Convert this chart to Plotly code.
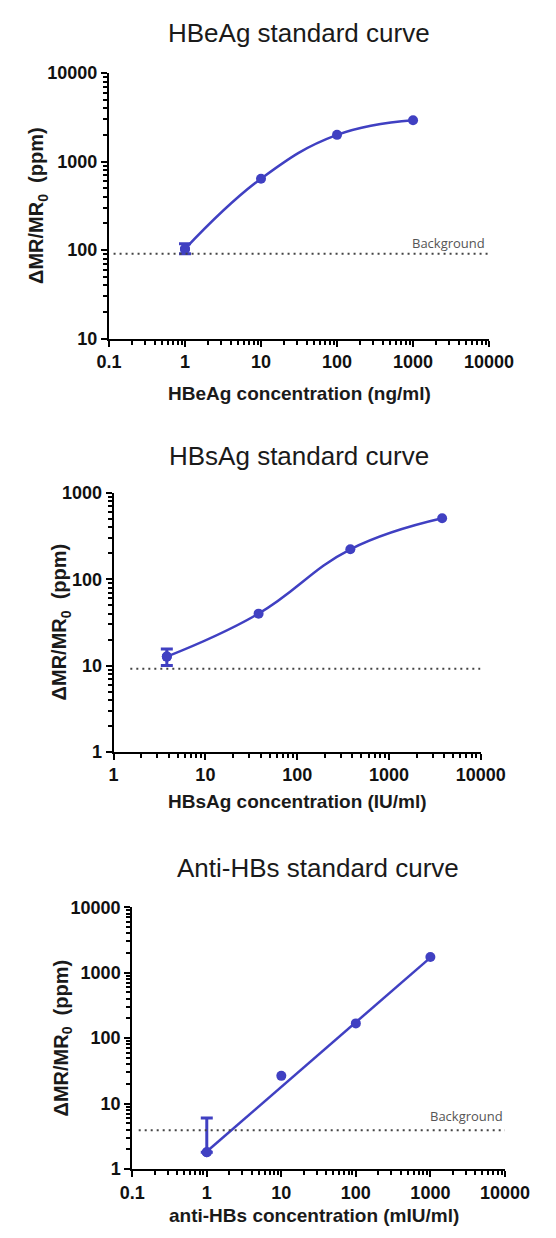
import plotly.graph_objects as go

# ---------------- data ----------------
hbeag_x = [1, 10, 100, 1000]
hbeag_y = [103, 640, 2000, 2930]
hbeag_err_plus = [15, 0, 0, 0]
hbeag_err_minus = [12, 0, 0, 0]
hbeag_background = 91

hbsag_x = [3.8, 38, 380, 3800]
hbsag_y = [12.7, 40, 223, 510]
hbsag_err_plus = [2.9, 0, 0, 0]
hbsag_err_minus = [2.7, 0, 0, 0]
hbsag_background = 9.2

antihbs_x = [1, 10, 100, 1000]
antihbs_y = [1.8, 26.5, 168, 1740]
antihbs_err_plus = [4.2, 0, 0, 0]
antihbs_err_minus = [0, 0, 0, 0]
antihbs_fit_x = [1, 1000]
antihbs_fit_y = [1.85, 1700]
antihbs_background = 3.9

titles = ["HBeAg standard curve", "HBsAg standard curve", "Anti-HBs standard curve"]
x_titles = ["HBeAg concentration (ng/ml)", "HBsAg concentration (IU/ml)",
            "anti-HBs concentration (mIU/ml)"]
y_title = "ΔMR/MR<sub>0</sub>  (ppm)"

x_ticks_1 = [0.1, 1, 10, 100, 1000, 10000]
x_ticktext_1 = ["0.1", "1", "10", "100", "1000", "10000"]
y_ticks_1 = [10, 100, 1000, 10000]
y_ticktext_1 = ["10", "100", "1000", "10000"]

x_ticks_2 = [1, 10, 100, 1000, 10000]
x_ticktext_2 = ["1", "10", "100", "1000", "10000"]
y_ticks_2 = [1, 10, 100, 1000]
y_ticktext_2 = ["1", "10", "100", "1000"]

x_ticks_3 = [0.1, 1, 10, 100, 1000, 10000]
x_ticktext_3 = ["0.1", "1", "10", "100", "1000", "10000"]
y_ticks_3 = [1, 10, 100, 1000, 10000]
y_ticktext_3 = ["1", "10", "100", "1000", "10000"]

# ---------------- style ----------------
W, H = 556, 1238
BLUE = "#4040c2"
FONT = "Liberation Sans, Arial, sans-serif"


def px_x(p):
    return p / W


def px_y(p):
    return 1 - p / H


def minor_vals(lo, hi):
    vals = []
    for e in range(lo, hi):
        for d in range(2, 10):
            vals.append(d * 10 ** e)
    return vals


fig = go.Figure()

panels = [
    dict(x=hbeag_x, y=hbeag_y, ep=hbeag_err_plus, em=hbeag_err_minus, bg=hbeag_background,
         xt=x_ticks_1, xtt=x_ticktext_1, yt=y_ticks_1, ytt=y_ticktext_1,
         xr=[-1, 4], yr=[1, 4], xdom=[103, 511], ydom=[64, 334], bg_x0=0.115,
         spline=True),
    dict(x=hbsag_x, y=hbsag_y, ep=hbsag_err_plus, em=hbsag_err_minus, bg=hbsag_background,
         xt=x_ticks_2, xtt=x_ticktext_2, yt=y_ticks_2, ytt=y_ticktext_2,
         xr=[0, 4], yr=[0, 3], xdom=[108, 502], ydom=[491, 754], bg_x0=1.52,
         spline=True),
    dict(x=antihbs_x, y=antihbs_y, ep=antihbs_err_plus, em=antihbs_err_minus, bg=antihbs_background,
         xt=x_ticks_3, xtt=x_ticktext_3, yt=y_ticks_3, ytt=y_ticktext_3,
         xr=[-1, 4], yr=[0, 4], xdom=[128, 528], ydom=[912, 1178], bg_x0=0.122,
         spline=False),
]

title_pos = [(307, 23), (307, 453), (327, 872)]
xtitle_pos = [(307, 390), (305, 804), (323, 1225)]
ytitle_pos = [(27, 199), (52, 622), (53, 1045)]

annotations = []
shapes = []
layout_axes = {}

for i, p in enumerate(panels):
    n = "" if i == 0 else str(i + 1)
    xa, ya = "x" + n, "y" + n

    # fitted curve
    if p["spline"]:
        fig.add_trace(go.Scatter(x=p["x"], y=p["y"], xaxis=xa, yaxis=ya, mode="lines",
                                 line=dict(color=BLUE, width=2.5, shape="spline", smoothing=1.2),
                                 hoverinfo="skip", showlegend=False))
    else:
        fig.add_trace(go.Scatter(x=antihbs_fit_x, y=antihbs_fit_y, xaxis=xa, yaxis=ya, mode="lines",
                                 line=dict(color=BLUE, width=2.5),
                                 hoverinfo="skip", showlegend=False))
    # error bars (only where present)
    keep = [k for k in range(len(p["x"])) if p["ep"][k] > 0 or p["em"][k] > 0]
    fig.add_trace(go.Scatter(x=[p["x"][k] for k in keep], y=[p["y"][k] for k in keep],
                             xaxis=xa, yaxis=ya, mode="markers",
                             marker=dict(color=BLUE, size=10),
                             error_y=dict(type="data", symmetric=False,
                                          array=[p["ep"][k] for k in keep],
                                          arrayminus=[p["em"][k] for k in keep],
                                          color=BLUE, thickness=3, width=6),
                             showlegend=False))
    # markers
    fig.add_trace(go.Scatter(x=p["x"], y=p["y"], xaxis=xa, yaxis=ya, mode="markers",
                             marker=dict(color=BLUE, size=10),
                             showlegend=False))

    # background line
    shapes.append(dict(type="line", xref=xa, yref=ya, x0=p["bg_x0"], x1=10 ** p["xr"][1],
                       y0=p["bg"], y1=p["bg"],
                       line=dict(color="#444444", width=2, dash="2px,4px")))

    axis_common = dict(type="log", showgrid=False, zeroline=False, showline=True,
                       linecolor="black", linewidth=2, ticks="outside", ticklen=6,
                       tickwidth=2, tickcolor="black",
                       tickfont=dict(family=FONT, size=18, color="#111111", weight="bold"),
                       tickmode="array", fixedrange=True)
    layout_axes["xaxis" + n] = dict(axis_common, anchor=ya,
                                    domain=[px_x(p["xdom"][0]), px_x(p["xdom"][1])],
                                    range=p["xr"], tickvals=p["xt"], ticktext=p["xtt"],
                                    minor=dict(tickmode="array",
                                               tickvals=minor_vals(p["xr"][0], p["xr"][1]),
                                               ticks="outside", ticklen=4, tickwidth=1.5,
                                               tickcolor="black", showgrid=False))
    layout_axes["yaxis" + n] = dict(axis_common, anchor=xa,
                                    domain=[px_y(p["ydom"][1]), px_y(p["ydom"][0])],
                                    range=p["yr"], tickvals=p["yt"], ticktext=p["ytt"],
                                    minor=dict(tickmode="array",
                                               tickvals=minor_vals(p["yr"][0], p["yr"][1]),
                                               ticks="outside", ticklen=4, tickwidth=1.5,
                                               tickcolor="black", showgrid=False))

    # titles
    tx, ty = title_pos[i]
    annotations.append(dict(text=titles[i], x=px_x(tx), y=px_y(ty), xref="paper", yref="paper",
                            showarrow=False, xanchor="center", yanchor="middle",
                            font=dict(family=FONT, size=26, color="#1a1a1a")))
    xx, xy = xtitle_pos[i]
    annotations.append(dict(text=x_titles[i], x=px_x(xx), y=px_y(xy), xref="paper", yref="paper",
                            showarrow=False, xanchor="center", yanchor="middle",
                            font=dict(family=FONT, size=19, color="#1a1a1a", weight="bold")))
    yx, yy = ytitle_pos[i]
    annotations.append(dict(text=y_title, x=px_x(yx), y=px_y(yy), xref="paper", yref="paper",
                            showarrow=False, xanchor="center", yanchor="middle", textangle=-90,
                            font=dict(family=FONT, size=20, color="#1a1a1a", weight="bold")))

# "Background" labels
annotations.append(dict(text="Background", x=px_x(509), y=px_y(237), xref="paper", yref="paper",
                        showarrow=False, xanchor="right", yanchor="middle",
                        font=dict(family="Open Sans, sans-serif", size=13, color="#555555")))
annotations.append(dict(text="Background", x=px_x(528), y=px_y(1124), xref="paper", yref="paper",
                        showarrow=False, xanchor="right", yanchor="middle",
                        font=dict(family="Open Sans, sans-serif", size=13, color="#555555")))

fig.update_layout(width=W, height=H, margin=dict(l=0, r=0, t=0, b=0),
                  paper_bgcolor="white", plot_bgcolor="white",
                  annotations=annotations, shapes=shapes, showlegend=False,
                  **layout_axes)

fig.write_html("out.html", config={"displayModeBar": False},
               post_script="document.body.style.margin='0';document.body.style.overflow='hidden';")
